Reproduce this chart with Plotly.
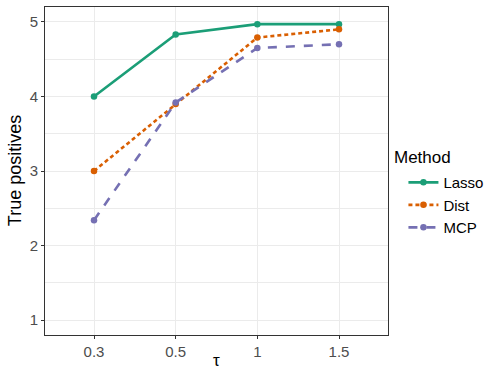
import plotly.graph_objects as go

tau_labels = ["0.3", "0.5", "1", "1.5"]
lasso = [4.0, 4.83, 4.97, 4.97]
dist = [3.0, 3.9, 4.79, 4.90]
mcp = [2.34, 3.92, 4.65, 4.70]
y_ticks = [1, 2, 3, 4, 5]

methods = ["Lasso", "Dist", "MCP"]
series = [lasso, dist, mcp]
colors = ["#1B9E77", "#D95F02", "#7570B3"]
dashes = ["solid", "4px,3px", "dash"]

x_idx = list(range(len(tau_labels)))

fig = go.Figure()
for name, vals, col, dsh in zip(methods, series, colors, dashes):
    fig.add_trace(go.Scatter(
        x=x_idx, y=vals, name=name, mode="lines+markers",
        line=dict(color=col, width=2.6, dash=dsh),
        marker=dict(color=col, size=6.5),
    ))

grid = "#EBEBEB"
fig.update_layout(
    width=500, height=380,
    margin=dict(l=45, r=112, t=7, b=45, autoexpand=False),
    paper_bgcolor="white", plot_bgcolor="white",
    font=dict(family="Liberation Sans, Arial, sans-serif", color="#4D4D4D", size=15),
    showlegend=True,
    legend=dict(
        font=dict(size=15, color="black"),
        x=1.045, xanchor="left", y=0.396, yanchor="middle",
        tracegroupgap=0, itemwidth=30,
    ),
    annotations=[
        dict(text="Method", xref="paper", yref="paper", x=1.0117, y=0.54, xanchor="left", yanchor="middle",
             showarrow=False, font=dict(size=17, color="black")),
        dict(text="τ", xref="paper", yref="paper", x=0.5, y=-0.078, xanchor="center", yanchor="middle",
             showarrow=False, font=dict(size=17, color="black")),
        dict(text="True positives", xref="paper", yref="paper", x=-0.087, y=0.5, xanchor="center", yanchor="middle",
             textangle=-90, showarrow=False, font=dict(size=18, color="black")),
    ],
)
fig.update_xaxes(
    automargin=False,
    range=[-0.6, 3.6], tickmode="array", tickvals=x_idx, ticktext=tau_labels,
    showgrid=True, gridcolor=grid, gridwidth=1.1,
    showline=True, linecolor="#333333", linewidth=1, mirror=True,
    ticks="outside", ticklen=3, tickcolor="#333333", tickwidth=1,
    tickfont=dict(size=15, color="#4D4D4D"),
    zeroline=False,
)
fig.update_yaxes(
    automargin=False,
    range=[0.8, 5.2], tickmode="array", tickvals=y_ticks,
    showgrid=True, gridcolor=grid, gridwidth=1.1,
    minor=dict(tickmode="array", tickvals=[1.5, 2.5, 3.5, 4.5], showgrid=True, gridcolor=grid, gridwidth=0.6, ticks=""),
    showline=True, linecolor="#333333", linewidth=1, mirror=True,
    ticks="outside", ticklen=3, tickcolor="#333333", tickwidth=1,
    tickfont=dict(size=15, color="#4D4D4D"),
    zeroline=False,
)

fig.write_html("out.html", config={"displayModeBar": False},
               post_script="document.body.style.margin='0';")
